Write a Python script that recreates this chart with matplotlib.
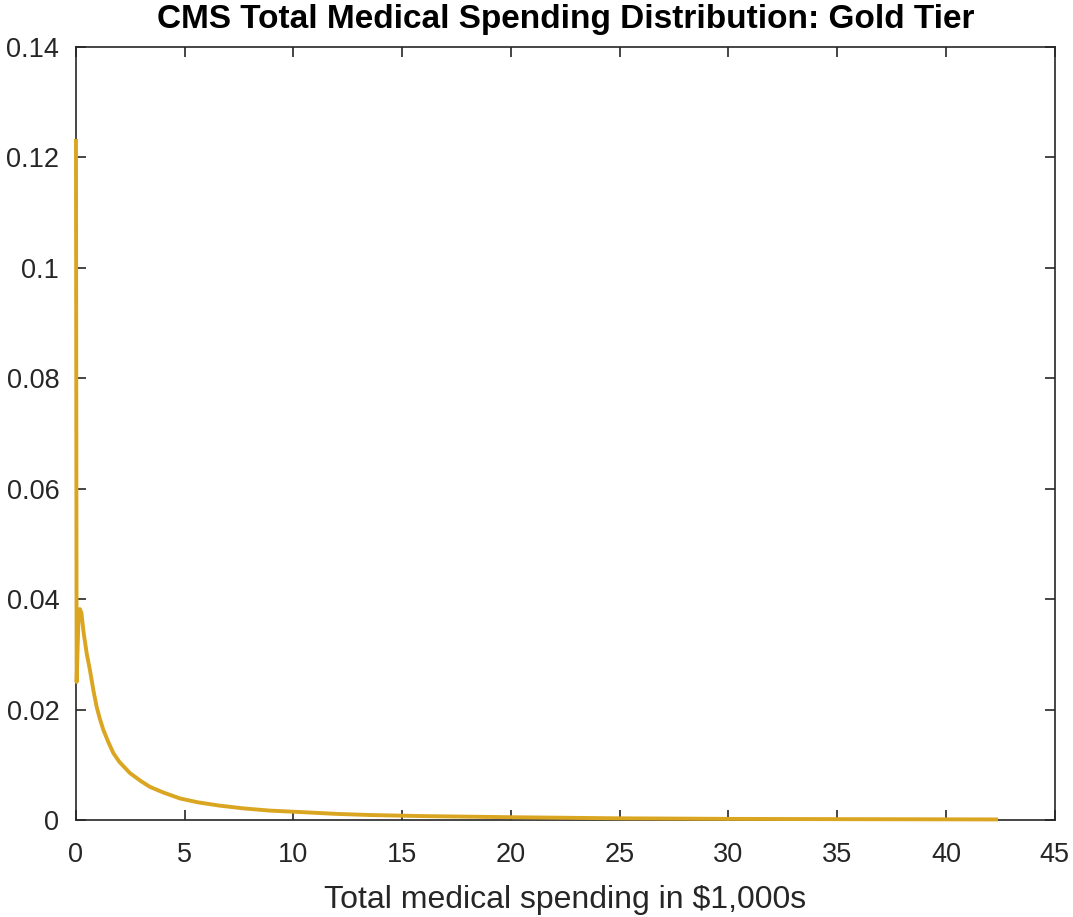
import matplotlib
matplotlib.use("Agg")
import matplotlib.pyplot as plt

plt.rcParams["font.family"] = ["Liberation Sans", "DejaVu Sans"]

# ---- Data ----
spending = [0.0, 0.03, 0.12, 0.18, 0.25, 0.35, 0.5, 0.64, 0.8, 0.95, 1.1, 1.26,
            1.5, 1.72, 2.0, 2.48, 3.0, 3.4, 4.0, 4.78, 5.6, 6.6, 7.7, 8.9,
            10.5, 12.0, 13.5, 16.0, 20.0, 25.0, 30.0, 35.0, 42.3]
density = [0.123, 0.025, 0.037, 0.0382, 0.0375, 0.034, 0.030, 0.0272, 0.0235,
           0.0205, 0.0183, 0.0163, 0.0140, 0.0121, 0.0105, 0.0085, 0.0070,
           0.0060, 0.0050, 0.0039, 0.0032, 0.0026, 0.0021, 0.0017, 0.0014,
           0.0011, 0.0009, 0.0007, 0.0005, 0.0003, 0.0002, 0.00015, 0.0001]

fig = plt.figure(figsize=(10.73, 9.17), dpi=100)
ax = fig.add_axes([0.0708, 0.1058, 0.9122, 0.8429])

# line drawn over the spine like the reference
ax.plot(spending, density, color="#DAA520", linewidth=2.8,
        clip_on=False, zorder=3, solid_joinstyle="round")

ax.set_xlim(0, 45)
ax.set_ylim(0, 0.14)
ax.set_xticks(range(0, 46, 5))
ax.set_yticks([0, 0.02, 0.04, 0.06, 0.08, 0.1, 0.12, 0.14])
ax.set_yticklabels(["0", "0.02", "0.04", "0.06", "0.08", "0.1", "0.12", "0.14"])

ax.tick_params(direction="in", top=True, right=True, length=7, width=1.2,
               labelsize=19.5, colors="#262626")
ax.tick_params(axis="x", pad=16)
ax.tick_params(axis="y", pad=12)
for s in ax.spines.values():
    s.set_color("#262626")
    s.set_linewidth(1.2)

ax.set_xlabel("Total medical spending in $1,000s", fontsize=23,
              color="#262626", labelpad=12)
ax.set_title("CMS Total Medical Spending Distribution: Gold Tier",
             fontsize=24, fontweight="bold", pad=14)

fig.savefig("out.png", dpi=100)
plt.close(fig)
